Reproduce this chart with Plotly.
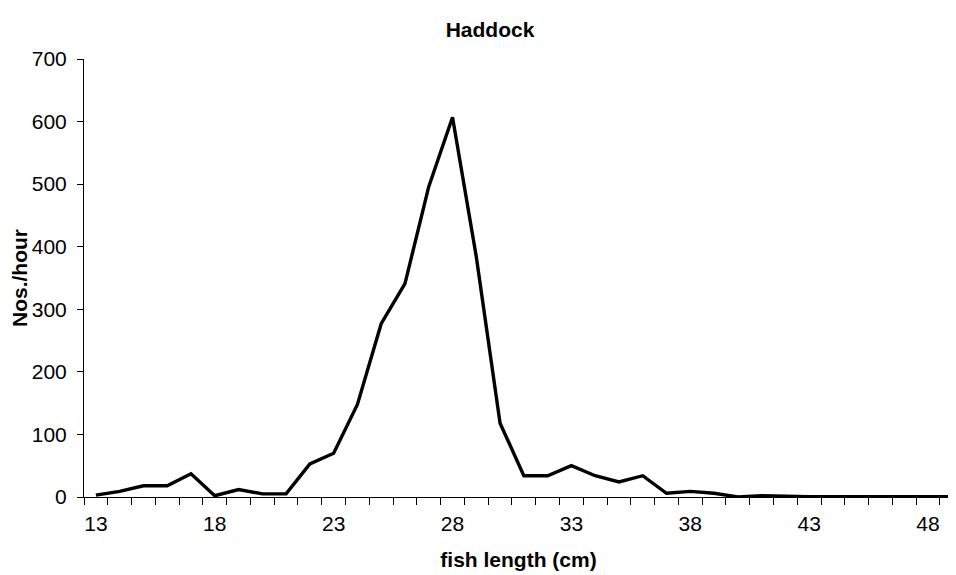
import plotly.graph_objects as go

lengths = list(range(13, 50))
nos_per_hour = [3, 9, 18, 18, 37, 2, 12, 5, 5, 53, 70, 148, 277, 341, 496, 607, 384, 118,
                34, 34, 50, 34, 24, 34, 6, 9, 6, 0, 2, 0.5, 0.3, 0.3, 0.3, 0.3, 0.3, 0.3, 0.3]
label_vals = [13, 18, 23, 28, 33, 38, 43, 48]
y_ticks = [0, 100, 200, 300, 400, 500, 600, 700]

font = "Liberation Sans, Arial, sans-serif"
fs = 21
W, H = 948, 567  # page body has an 8px margin

fig = go.Figure(go.Scatter(x=lengths, y=nos_per_hour, mode="lines",
                           line=dict(color="black", width=3.4), cliponaxis=False))

fig.update_layout(
    width=W, height=H,
    margin=dict(l=76, r=3, t=51, b=78),
    plot_bgcolor="white", paper_bgcolor="white",
    showlegend=False,
    font=dict(family=font, size=fs, color="black"),
    title=dict(text="<b>Haddock</b>", x=482/W, xanchor="center", y=1-22/H, yanchor="middle",
               font=dict(family=font, size=fs, color="black")),
    xaxis=dict(range=[12.5, 49.05], showgrid=False, zeroline=False, automargin=False,
               showline=True, linecolor="black", linewidth=1,
               tickmode="array", tickvals=label_vals, ticktext=[str(v) for v in label_vals],
               ticks="", ticklabelstandoff=8, tickfont=dict(family=font, size=fs, color="black"),
               minor=dict(tickmode="array", tickvals=[v - 0.5 for v in lengths],
                          ticks="outside", ticklen=7, tickcolor="black", tickwidth=1, showgrid=False),
               title=dict(text="<b>fish length (cm)</b>", standoff=18,
                          font=dict(family=font, size=fs, color="black"))),
    yaxis=dict(range=[0, 700], showgrid=False, zeroline=False, automargin=False,
               showline=True, linecolor="black", linewidth=1,
               tickmode="array", tickvals=y_ticks, ticks="outside", ticklen=6,
               tickcolor="black", ticklabelstandoff=6,
               tickfont=dict(family=font, size=fs, color="black"),
               title=dict(text="<b>Nos./hour</b>", standoff=6,
                          font=dict(family=font, size=fs, color="black"))),
)

fig.write_html("out.html")
